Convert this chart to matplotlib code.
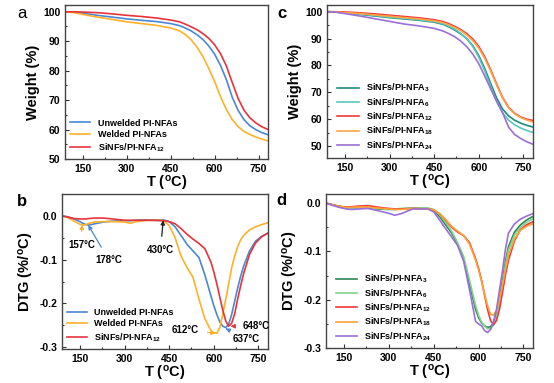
import numpy as np
import matplotlib
matplotlib.use("Agg")
import matplotlib.pyplot as plt
from matplotlib.ticker import MultipleLocator

plt.rcParams['font.family'] = ['Liberation Sans', 'DejaVu Sans']
plt.rcParams['font.weight'] = 'bold'
plt.rcParams['mathtext.fontset'] = 'custom'
plt.rcParams['mathtext.rm'] = 'Liberation Sans:bold'
plt.rcParams['mathtext.it'] = 'Liberation Sans:bold'
plt.rcParams['mathtext.bf'] = 'Liberation Sans:bold'

# temperature grids (degC)
T_tg = [90, 120, 150, 200, 250, 300, 350, 400, 450, 480, 500, 520, 540, 560,
        580, 600, 620, 640, 660, 680, 700, 720, 740, 760, 780]
T_dtg = [90, 110, 130, 150, 160, 170, 180, 200, 230, 260, 300, 320, 340, 380,
         430, 450, 470, 490, 510, 530, 550, 570, 590, 600, 610, 620, 630, 640,
         650, 660, 670, 680, 690, 700, 720, 740, 760, 780]

# panel a: TG (%)
tg_unwelded = [100, 99.9, 99.5, 98.8, 98.2, 97.6, 97.1, 96.7, 96.0, 95.3, 94.5, 93.5, 92.2,
               90.6, 88.4, 85.6, 81.8, 77.0, 71.0, 66.5, 63.4, 61.3, 60.0, 59.0, 58.3]
tg_welded = [100, 99.7, 99.1, 98.2, 97.4, 96.6, 96.0, 95.4, 94.5, 93.5, 92.3, 90.5, 88.0,
             84.8, 80.8, 76.3, 71.2, 66.8, 63.4, 61.0, 59.4, 58.3, 57.5, 56.8, 56.2]
tg_si12_a = [100, 100, 99.9, 99.7, 99.3, 98.8, 98.4, 97.9, 97.2, 96.6, 95.8, 94.9, 93.9,
             92.6, 91.0, 88.8, 85.8, 81.6, 76.0, 70.6, 66.6, 64.0, 62.3, 61.0, 60.1]

# panel c: TG (%)
tg_3 = [100, 99.9, 99.6, 99.0, 98.4, 97.8, 97.3, 96.8, 96.1, 95.3, 94.3, 93.1, 91.7,
        89.9, 87.3, 83.6, 78.8, 73.2, 67.8, 63.7, 61.2, 59.6, 58.5, 57.7, 57.1]
tg_6 = [100, 99.9, 99.6, 99.1, 98.6, 98.0, 97.5, 97.0, 96.3, 95.5, 94.6, 93.4, 91.9,
        89.9, 87.0, 83.0, 77.9, 72.0, 66.5, 62.3, 59.6, 57.9, 56.7, 55.8, 55.1]
tg_12 = [100, 100, 99.9, 99.6, 99.2, 98.7, 98.2, 97.7, 97.0, 96.3, 95.5, 94.5, 93.3,
         91.8, 89.8, 87.0, 83.2, 78.3, 73.0, 68.0, 64.4, 62.2, 60.8, 60.0, 59.5]
tg_18 = [100, 99.9, 99.7, 99.3, 98.8, 98.3, 97.8, 97.3, 96.6, 95.9, 95.1, 94.1, 92.9,
         91.3, 89.2, 86.4, 82.6, 77.8, 72.6, 67.7, 64.2, 62.0, 60.6, 59.7, 59.0]
tg_24 = [100, 99.8, 99.3, 98.4, 97.4, 96.4, 95.4, 94.7, 93.8, 92.8, 91.8, 90.6, 89.0,
         86.9, 84.2, 80.6, 76.0, 71.2, 66.6, 62.3, 57.0, 54.3, 52.8, 51.6, 50.7]

# panel b: DTG (%/degC)
dtg_unwelded = [0, -0.002, -0.007, -0.013, -0.017, -0.020, -0.021, -0.018, -0.014, -0.012,
                -0.011, -0.011, -0.010, -0.009, -0.009, -0.013, -0.025, -0.045, -0.065,
                -0.080, -0.095, -0.135, -0.182, -0.205, -0.225, -0.242, -0.252, -0.255,
                -0.247, -0.225, -0.195, -0.165, -0.138, -0.115, -0.080, -0.058, -0.047, -0.040]
dtg_welded = [0, -0.004, -0.012, -0.019, -0.021, -0.020, -0.017, -0.014, -0.013, -0.013,
              -0.014, -0.017, -0.013, -0.010, -0.010, -0.022, -0.050, -0.092, -0.118,
              -0.140, -0.190, -0.235, -0.262, -0.267, -0.268, -0.255, -0.225, -0.190,
              -0.155, -0.118, -0.092, -0.070, -0.055, -0.045, -0.032, -0.025, -0.020, -0.016]
dtg_si12_b = [0, -0.003, -0.006, -0.007, -0.007, -0.007, -0.006, -0.005, -0.005, -0.007,
              -0.010, -0.010, -0.010, -0.010, -0.011, -0.013, -0.018, -0.029, -0.042,
              -0.053, -0.063, -0.075, -0.105, -0.128, -0.155, -0.185, -0.215, -0.240,
              -0.252, -0.245, -0.224, -0.190, -0.160, -0.132, -0.088, -0.062, -0.048, -0.040]

# panel d: DTG (%/degC)
dtg_3 = [0, -0.003, -0.006, -0.008, -0.009, -0.010, -0.010, -0.010, -0.010, -0.012,
         -0.013, -0.013, -0.012, -0.010, -0.011, -0.015, -0.028, -0.045, -0.062,
         -0.085, -0.115, -0.168, -0.220, -0.237, -0.248, -0.254, -0.257, -0.256,
         -0.248, -0.228, -0.198, -0.160, -0.120, -0.090, -0.060, -0.045, -0.035, -0.028]
dtg_6 = [0, -0.003, -0.007, -0.010, -0.011, -0.011, -0.011, -0.010, -0.010, -0.011,
         -0.012, -0.012, -0.011, -0.010, -0.010, -0.013, -0.024, -0.040, -0.058,
         -0.082, -0.110, -0.160, -0.212, -0.232, -0.246, -0.255, -0.260, -0.260,
         -0.253, -0.235, -0.205, -0.168, -0.128, -0.097, -0.066, -0.050, -0.040, -0.033]
dtg_12 = [0, -0.003, -0.006, -0.008, -0.008, -0.008, -0.007, -0.006, -0.005, -0.008,
          -0.011, -0.012, -0.012, -0.011, -0.012, -0.014, -0.022, -0.035, -0.050,
          -0.060, -0.067, -0.082, -0.115, -0.135, -0.160, -0.190, -0.220, -0.243,
          -0.252, -0.243, -0.220, -0.185, -0.148, -0.118, -0.078, -0.055, -0.045, -0.039]
dtg_18 = [0, -0.003, -0.006, -0.008, -0.009, -0.009, -0.008, -0.008, -0.008, -0.010,
          -0.012, -0.013, -0.013, -0.011, -0.012, -0.014, -0.022, -0.034, -0.048,
          -0.058, -0.067, -0.085, -0.118, -0.138, -0.162, -0.188, -0.212, -0.230,
          -0.232, -0.222, -0.200, -0.170, -0.138, -0.108, -0.074, -0.056, -0.048, -0.043]
dtg_24 = [0, -0.004, -0.008, -0.011, -0.012, -0.013, -0.013, -0.012, -0.011, -0.015,
          -0.021, -0.025, -0.022, -0.012, -0.012, -0.018, -0.035, -0.053, -0.070,
          -0.088, -0.120, -0.180, -0.245, -0.250, -0.254, -0.264, -0.268, -0.262,
          -0.245, -0.220, -0.180, -0.140, -0.095, -0.062, -0.043, -0.033, -0.027, -0.022]

labels_ab = ['Unwelded PI-NFAs', 'Welded PI-NFAs', r'SiNFs/PI-NFA$_{12}$']
labels_cd = [r'SiNFs/PI-NFA$_{3}$', r'SiNFs/PI-NFA$_{6}$', r'SiNFs/PI-NFA$_{12}$',
             r'SiNFs/PI-NFA$_{18}$', r'SiNFs/PI-NFA$_{24}$']
xticks = [150, 300, 450, 600, 750]

col_ab = ['#4a88d4', '#ffb12a', '#e8333c']
col_c = ['#1e8c80', '#5cc6bc', '#ee3a3a', '#ffa445', '#9b6fd6']
col_d = ['#2d8755', '#82d28e', '#ee3a3a', '#ffa035', '#9b6fd6']

W, H = 554, 383
fig = plt.figure(figsize=(W / 100, H / 100), dpi=100)


def make_ax(l, t, r, b):
    return fig.add_axes([l / W, 1 - b / H, (r - l) / W, (b - t) / H])


def style(ax, ylab, ymaj, ymin):
    ax.set_xlim(90, 782)
    ax.set_xticks(xticks)
    ax.xaxis.set_minor_locator(MultipleLocator(75))
    ax.yaxis.set_major_locator(MultipleLocator(ymaj))
    ax.yaxis.set_minor_locator(MultipleLocator(ymin))
    ax.tick_params(which='both', direction='in', labelsize=7.5, color='#333333', width=0.8)
    ax.tick_params(which='major', length=3)
    ax.tick_params(which='minor', length=1.5)
    for s in ax.spines.values():
        s.set_color('#444444')
        s.set_linewidth(1.0)
    ax.set_xlabel(r'T ($^{\rm o}$C)', fontsize=10.5, fontweight='bold', labelpad=0)
    ax.set_ylabel(ylab, fontsize=10.5, fontweight='bold', labelpad=2)


# panel a
axa = make_ax(65, 5, 268, 159)
for y, c, lab in zip([tg_unwelded, tg_welded, tg_si12_a], col_ab, labels_ab):
    axa.plot(T_tg, y, color=c, lw=1.2, label=lab)
axa.set_ylim(50, 102.3)
style(axa, 'Weight (%)', 10, 5)
axa.legend(loc='lower left', frameon=False, fontsize=6.5, handlelength=2.2,
           labelspacing=0.25, borderaxespad=0.2, bbox_to_anchor=(0.0, 0.0))

# panel c
axc = make_ax(327, 5, 533, 158)
for y, c, lab in zip([tg_3, tg_6, tg_12, tg_18, tg_24], col_c, labels_cd):
    axc.plot(T_tg, y, color=c, lw=1.2, label=lab)
axc.set_ylim(45.5, 102.5)
style(axc, 'Weight (%)', 10, 5)
axc.legend(loc='lower left', frameon=False, fontsize=6.5, handlelength=2.4,
           labelspacing=0.2, borderaxespad=0.3, bbox_to_anchor=(0.02, 0.0))

# panel b
axb = make_ax(62, 194, 268, 349)
for y, c, lab in zip([dtg_unwelded, dtg_welded, dtg_si12_b], col_ab, labels_ab):
    axb.plot(T_dtg, y, color=c, lw=1.2, label=lab)
axb.set_ylim(-0.304, 0.05)
style(axb, r'DTG (%/$^{\rm o}$C)', 0.1, 0.05)
axb.set_yticks([0.0, -0.1, -0.2, -0.3])
axb.set_yticklabels(['0.0', '-0.1', '-0.2', '-0.3'])
axb.legend(loc='lower left', frameon=False, fontsize=6.5, handlelength=2.2,
           labelspacing=0.3, borderaxespad=0.2, bbox_to_anchor=(0.0, 0.0))

ann = [('157°C', 157, -0.020, 155, -0.066, col_ab[1]),
       ('178°C', 178, -0.021, 247, -0.100, col_ab[0]),
       ('430°C', 430, -0.010, 421, -0.077, '#222222'),
       ('612°C', 606, -0.268, 505, -0.260, col_ab[1]),
       ('637°C', 640, -0.257, 708, -0.282, col_ab[0]),
       ('648°C', 656, -0.252, 742, -0.252, col_ab[2])]
for txt, px, py, tx, ty, c in ann:
    axb.annotate(txt, xy=(px, py), xytext=(tx, ty), fontsize=7, fontweight='bold',
                 ha='center', va='center',
                 arrowprops=dict(arrowstyle='-|>', color=c, lw=0.9, shrinkA=4, shrinkB=0,
                                 mutation_scale=6))

# panel d
axd = make_ax(326, 194, 533, 348)
for y, c, lab in zip([dtg_3, dtg_6, dtg_12, dtg_18, dtg_24], col_d, labels_cd):
    axd.plot(T_dtg, y, color=c, lw=1.2, label=lab)
axd.set_ylim(-0.3, 0.019)
style(axd, r'DTG (%/$^{\rm o}$C)', 0.1, 0.05)
axd.set_yticks([0.0, -0.1, -0.2, -0.3])
axd.set_yticklabels(['0.0', '-0.1', '-0.2', '-0.3'])
axd.legend(loc='lower left', frameon=False, fontsize=6.5, handlelength=2.4,
           labelspacing=0.2, borderaxespad=0.2, bbox_to_anchor=(0.02, 0.0))

# panel letters
fig.text(22 / W, 1 - 14 / H, 'a', fontsize=12, fontweight='normal', ha='center', va='center')
fig.text(22 / W, 1 - 202 / H, 'b', fontsize=12, fontweight='bold', ha='center', va='center')
fig.text(282 / W, 1 - 14 / H, 'c', fontsize=12, fontweight='bold', ha='center', va='center')
fig.text(281 / W, 1 - 201 / H, 'd', fontsize=12, fontweight='bold', ha='center', va='center')

fig.savefig('out.png', dpi=100)
